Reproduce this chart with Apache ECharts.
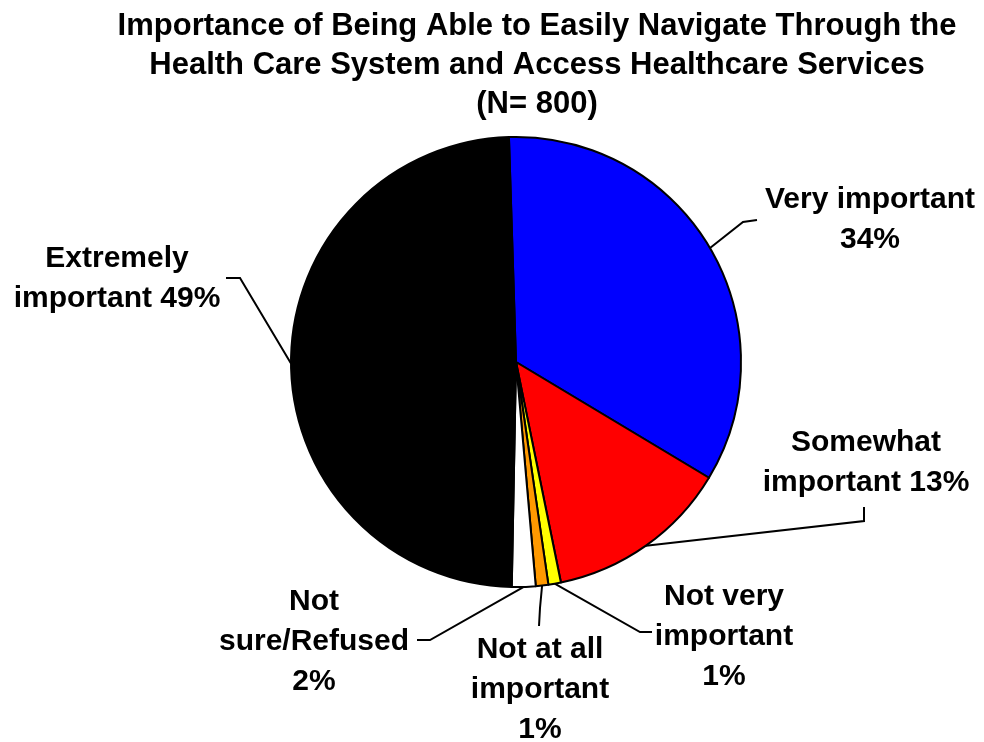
<!DOCTYPE html>
<html><head><meta charset="utf-8">
<script src="https://cdn.jsdelivr.net/npm/echarts@6/dist/echarts.min.js"></script>
<style>html,body{margin:0;padding:0;background:#fff}#c{width:984px;height:742px}</style>
</head><body><div id="c"></div>
<script>
// ---- data ----
const categories = ['Very important', 'Somewhat important', 'Not very important', 'Not at all important', 'Not sure/Refused', 'Extremely important'];
const values = [34.1, 13.2, 0.9, 0.9, 1.7, 49.2];
const percentLabels = ['34%', '13%', '1%', '1%', '2%', '49%'];
const labelNames = ['Very important', 'Somewhat\nimportant', 'Not very\nimportant', 'Not at all\nimportant', 'Not\nsure/Refused', 'Extremely\nimportant'];
const labelJoin = ['\n', ' ', '\n', '\n', '\n', ' '];
const titleText = 'Importance of Being Able to Easily Navigate Through the\nHealth Care System and Access Healthcare Services\n(N= 800)';

// ---- style / layout ----
const colors = ['#0000FF', '#FF0000', '#FFFF00', '#FF9900', '#FFFFFF', '#000000'];
const labelLayoutCfg = [
  { x: 870, y: 220, bend: [743, 222], end: [757, 220] },
  { x: 866, y: 463, bend: [864, 521], end: [864, 507] },
  { x: 724, y: 637, bend: [640, 632], end: [652, 632] },
  { x: 540, y: 690, bend: [540, 608], end: [539, 626] },
  { x: 314, y: 642, bend: [430, 640], end: [417, 640] },
  { x: 117, y: 279, bend: [240, 278], end: [226, 278] }
];
const FONT = '"Liberation Sans", Arial, sans-serif';

const chart = echarts.init(document.getElementById('c'), null, { renderer: 'canvas' });
chart.setOption({
  backgroundColor: '#ffffff',
  animation: false,
  title: {
    text: titleText,
    left: 532,
    textAlign: 'center',
    top: 2,
    textStyle: { fontFamily: FONT, fontWeight: 'bold', fontSize: 31, lineHeight: 39, color: '#000' }
  },
  series: [{
    type: 'pie',
    center: [516, 362],
    radius: 225,
    startAngle: 91.8,
    clockwise: true,
    avoidLabelOverlap: false,
    minShowLabelAngle: 0,
    data: categories.map((c, i) => ({ name: c, value: values[i], itemStyle: { color: colors[i] } })),
    itemStyle: { borderColor: '#000', borderWidth: 2 },
    label: {
      show: true,
      position: 'outside',
      formatter: p => labelNames[p.dataIndex] + labelJoin[p.dataIndex] + percentLabels[p.dataIndex],
      fontFamily: FONT,
      fontWeight: 'bold',
      fontSize: 30,
      lineHeight: 40,
      color: '#000',
      align: 'center'
    },
    labelLine: { show: true, length: 20, length2: 10, lineStyle: { color: '#000', width: 2 } },
    labelLayout: function (params) {
      const cfg = labelLayoutCfg[params.dataIndex];
      const start = params.labelLinePoints ? params.labelLinePoints[0] : cfg.bend;
      return {
        x: cfg.x, y: cfg.y, align: 'center', verticalAlign: 'middle',
        labelLinePoints: [start, cfg.bend, cfg.end]
      };
    },
    emphasis: { disabled: true }
  }]
});
</script>
</body></html>
